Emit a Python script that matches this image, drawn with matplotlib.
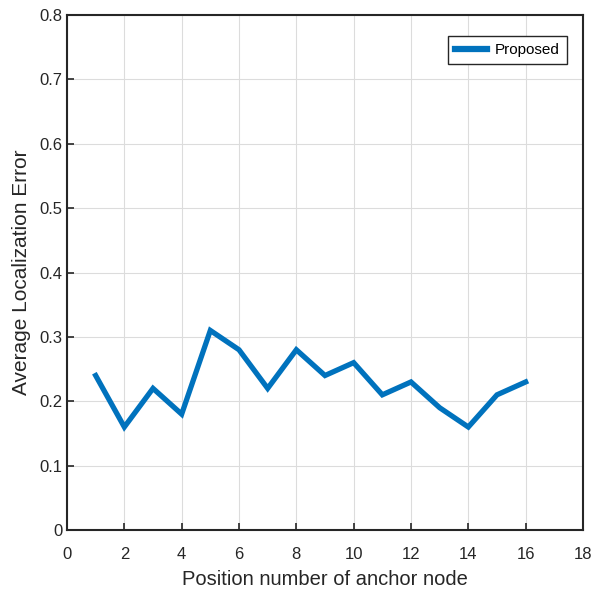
import matplotlib
matplotlib.use("Agg")
import matplotlib.pyplot as plt

positions = [1, 2, 3, 4, 5, 6, 7, 8, 9, 10, 11, 12, 13, 14, 15, 16]
avg_error = [0.24, 0.16, 0.22, 0.18, 0.31, 0.28, 0.22, 0.28,
             0.24, 0.26, 0.21, 0.23, 0.19, 0.16, 0.21, 0.23]
x_ticks = [0, 2, 4, 6, 8, 10, 12, 14, 16, 18]
y_ticks = [0, 0.1, 0.2, 0.3, 0.4, 0.5, 0.6, 0.7, 0.8]

plt.rcParams["font.family"] = ["Liberation Sans", "DejaVu Sans"]

fig = plt.figure(figsize=(6.02, 5.93), dpi=100)
ax = fig.add_axes([0.1113, 0.1062, 0.8571, 0.8685])

ax.plot(positions, avg_error, color="#0072BD", linewidth=3.8,
        solid_joinstyle="miter", label="Proposed")

ax.set_xlim(0, 18)
ax.set_ylim(0, 0.8)
ax.set_xticks(x_ticks)
ax.set_yticks(y_ticks)
ax.set_yticklabels([f"{v:g}" for v in y_ticks])
ax.grid(True, color="#dcdcdc", linewidth=0.8)
ax.set_axisbelow(True)
ax.tick_params(direction="in", length=5, width=1.2, labelsize=12,
               top=False, right=False, colors="#262626")
ax.tick_params(axis="x", pad=12)
ax.tick_params(axis="y", pad=3)
for spine in ax.spines.values():
    spine.set_linewidth(1.5)
    spine.set_color("#262626")

ax.set_xlabel("Position number of anchor node", fontsize=14.5,
              color="#262626", labelpad=6)
ax.set_ylabel("Average Localization Error", fontsize=15,
              color="#262626", labelpad=6)

leg = ax.legend(loc="upper right", bbox_to_anchor=(0.969, 0.959),
                borderaxespad=0, fontsize=11, fancybox=False,
                framealpha=1, edgecolor="#262626", handlelength=2.1,
                handletextpad=0.55, borderpad=0.45)
leg.get_frame().set_linewidth(1.0)
for line in leg.get_lines():
    line.set_linewidth(4.5)

fig.savefig("out.png", dpi=100)
